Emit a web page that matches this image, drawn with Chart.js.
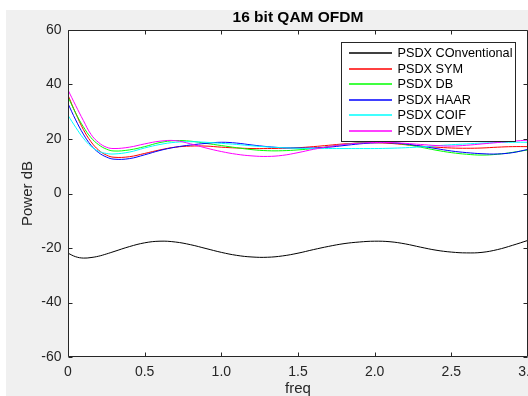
<!DOCTYPE html>
<html>
<head>
<meta charset="utf-8">
<script src="https://cdn.jsdelivr.net/npm/chart.js@4.4.1/dist/chart.umd.min.js"></script>
<style>
  html, body { margin: 0; padding: 0; background: #fff; }
  #wrap { width: 528px; height: 396px; }
</style>
</head>
<body>
<div id="wrap"><canvas id="psdchart" width="528" height="396"></canvas></div>
<script>
// frequency samples (denser at the start where the curves drop fast)
const freq = [0, 0.05, 0.1, 0.15, 0.2, 0.25, 0.3, 0.4, 0.5, 0.6, 0.7, 0.8, 0.9, 1.0, 1.1, 1.2, 1.3, 1.4, 1.5,
  1.6, 1.7, 1.8, 1.9, 2.0, 2.1, 2.2, 2.3, 2.4, 2.5, 2.6, 2.7, 2.8, 2.9, 3.0];

const psdConventional = [-21.9, -23.2, -23.7, -23.5, -23.0, -22.2, -21.3, -19.5, -18.1, -17.5, -17.8, -18.8, -20.2, -21.6,
  -22.7, -23.3, -23.4, -22.9, -21.9, -20.6, -19.4, -18.4, -17.8, -17.5, -17.7, -18.5, -19.7, -20.8, -21.5, -21.8, -21.6, -20.6, -19.0, -17.2];
const psdSym = [36.1, 29.5, 23.5, 19.0, 15.9, 14.1, 13.3, 13.5, 14.7, 16.0, 17.0, 17.4, 17.4, 17.0, 16.7, 16.5, 16.5, 16.6,
  16.8, 17.2, 17.7, 18.2, 18.5, 18.6, 18.4, 17.9, 17.4, 17.0, 16.7, 16.6, 16.7, 17.0, 17.2, 17.2];
const psdDb = [35.5, 29.5, 24.5, 20.5, 17.9, 16.3, 15.6, 16.0, 17.2, 18.7, 19.4, 19.2, 18.4, 17.6, 16.8, 16.1, 15.7, 15.7,
  16.0, 16.5, 17.2, 18.0, 18.6, 18.9, 18.7, 18.0, 17.0, 15.9, 15.0, 14.4, 14.1, 14.4, 15.1, 16.0];
const psdHaar = [33.0, 27.0, 21.8, 17.7, 15.0, 13.4, 12.6, 12.8, 14.2, 15.8, 17.0, 17.8, 18.4, 18.8, 18.5, 17.8, 17.2, 16.8,
  16.7, 16.7, 17.0, 17.6, 18.2, 18.6, 18.6, 18.2, 17.4, 16.5, 15.6, 15.0, 14.6, 14.5, 15.0, 16.2];
const psdCoif = [28.7, 24.3, 20.3, 17.3, 15.5, 14.7, 14.5, 15.2, 16.7, 18.0, 18.8, 19.0, 18.8, 18.4, 18.0, 17.5, 17.1, 16.8,
  16.6, 16.5, 16.5, 16.5, 16.5, 16.5, 16.6, 16.8, 17.1, 17.5, 17.9, 18.2, 18.5, 18.7, 18.8, 18.8];
const psdDmey = [38.0, 32.3, 26.8, 21.7, 18.7, 17.0, 16.5, 17.0, 18.2, 19.2, 19.4, 18.2, 16.7, 15.4, 14.4, 13.8, 13.6, 14.0,
  15.0, 16.2, 17.2, 18.0, 18.5, 18.7, 18.7, 18.4, 18.0, 17.6, 17.4, 17.7, 18.2, 18.7, 19.2, 19.6];

const seriesNames = ['PSDX COnventional', 'PSDX SYM', 'PSDX DB', 'PSDX HAAR', 'PSDX COIF', 'PSDX DMEY'];
const seriesValues = [psdConventional, psdSym, psdDb, psdHaar, psdCoif, psdDmey];
const seriesColors = ['#000000', '#ff0000', '#00ff00', '#0000ff', '#00ffff', '#ff00ff'];

const xTicks = [0, 0.5, 1, 1.5, 2, 2.5, 3];
const yTicks = [-60, -40, -20, 0, 20, 40, 60];
const chartTitle = '16 bit QAM OFDM';

const FONT = "'Liberation Sans', Arial, Helvetica, sans-serif";
const AXIS_COLOR = '#262626';

Chart.defaults.font.family = FONT;
Chart.defaults.color = AXIS_COLOR;

// matlab style figure: grey figure, white axes, boxed axes with inward ticks, legend inside
const matlabLook = {
  id: 'matlabLook',
  beforeDraw(chart) {
    const {ctx, chartArea: a} = chart;
    ctx.save();
    ctx.fillStyle = '#ffffff';
    ctx.fillRect(0, 0, chart.width, chart.height);
    ctx.fillStyle = '#f0f0f0';
    ctx.fillRect(6, 10, chart.width - 6, chart.height - 10);
    ctx.fillStyle = '#ffffff';
    ctx.fillRect(a.left, a.top, a.right - a.left, a.bottom - a.top);
    ctx.restore();
  },
  afterDatasetsDraw(chart) {
    const {ctx, chartArea: a, scales} = chart;
    const L = Math.round(a.left) + 0.5, R = Math.round(a.right) - 0.5;
    const T = Math.round(a.top) + 0.5, B = Math.round(a.bottom) - 0.5;
    const tick = 4;
    ctx.save();
    ctx.strokeStyle = AXIS_COLOR;
    ctx.lineWidth = 1;
    ctx.beginPath();
    ctx.rect(L, T, R - L, B - T);
    xTicks.forEach(v => {
      const px = Math.round(scales.x.getPixelForValue(v)) + 0.5;
      ctx.moveTo(px, B); ctx.lineTo(px, B - tick);
      ctx.moveTo(px, T); ctx.lineTo(px, T + tick);
    });
    yTicks.forEach(v => {
      const py = Math.round(scales.y.getPixelForValue(v)) + 0.5;
      ctx.moveTo(L, py); ctx.lineTo(L + tick, py);
      ctx.moveTo(R, py); ctx.lineTo(R - tick, py);
    });
    ctx.stroke();

    // title
    ctx.fillStyle = '#000';
    ctx.font = 'bold 15.5px ' + FONT;
    ctx.textAlign = 'center';
    ctx.textBaseline = 'middle';
    ctx.fillText(chartTitle, (a.left + a.right) / 2, 17.5);

    // legend box (northeast)
    ctx.font = '12.7px ' + FONT;
    const maxW = Math.max(...seriesNames.map(t => ctx.measureText(t).width));
    const rowH = 15.6;
    const boxW = Math.round(56 + maxW + 3);
    const boxH = Math.round(20.8 + rowH * (seriesNames.length - 1));
    const bx = Math.round(a.right - 13 - boxW) + 0.5;
    const by = Math.round(a.top + 12) + 0.5;
    ctx.fillStyle = '#ffffff';
    ctx.fillRect(bx, by, boxW, boxH);
    ctx.strokeStyle = AXIS_COLOR;
    ctx.strokeRect(bx, by, boxW, boxH);
    ctx.textAlign = 'left';
    seriesNames.forEach((name, i) => {
      const cy = by + 10.4 + i * rowH;
      const ly = Math.round(cy);
      ctx.beginPath();
      ctx.strokeStyle = seriesColors[i];
      ctx.lineWidth = 1.3;
      ctx.moveTo(bx + 7.5, ly);
      ctx.lineTo(bx + 50.5, ly);
      ctx.stroke();
      ctx.fillStyle = '#000';
      ctx.fillText(name, bx + 56, cy + 0.5);
    });
    ctx.restore();
  }
};

const ctx = document.getElementById('psdchart').getContext('2d');
let psdChart = new Chart(ctx, {
  type: 'line',
  data: {
    datasets: seriesNames.map((name, i) => ({
      label: name,
      data: freq.map((f, j) => ({x: f, y: seriesValues[i][j]})),
      borderColor: seriesColors[i],
      borderWidth: 1,
      pointRadius: 0,
      tension: 0.4,
      fill: false,
      order: seriesNames.length - i
    }))
  },
  options: {
    responsive: false,
    animation: false,
    devicePixelRatio: 1,
    layout: {
      padding: {left: 6, top: 30, right: -1, bottom: 0}
    },
    plugins: {
      legend: {display: false},
      tooltip: {enabled: false},
      title: {display: false}
    },
    scales: {
      x: {
        type: 'linear',
        min: 0,
        max: 3,
        grid: {display: false, drawTicks: false},
        border: {display: false},
        ticks: {padding: 6.3, font: {size: 14}, color: AXIS_COLOR, maxRotation: 0, autoSkip: false},
        title: {display: true, text: 'freq', color: AXIS_COLOR, font: {size: 15, lineHeight: 1}, padding: {top: 0, bottom: 0}},
        afterBuildTicks: s => { s.ticks = xTicks.map(v => ({value: v})); },
        afterFit: s => { s.height = 39; s.paddingLeft = 0; s.paddingRight = 0; }
      },
      y: {
        type: 'linear',
        min: -60,
        max: 60,
        grid: {display: false, drawTicks: false},
        border: {display: false},
        ticks: {padding: 6.5, font: {size: 14}, color: AXIS_COLOR},
        title: {display: true, text: 'Power dB', color: AXIS_COLOR, font: {size: 15, lineHeight: 1.2}, padding: {top: 12.8, bottom: 0}},
        afterBuildTicks: s => { s.ticks = yTicks.map(v => ({value: v})); },
        afterFit: s => { s.width = 62; }
      }
    }
  },
  plugins: [matlabLook]
});
</script>
</body>
</html>
